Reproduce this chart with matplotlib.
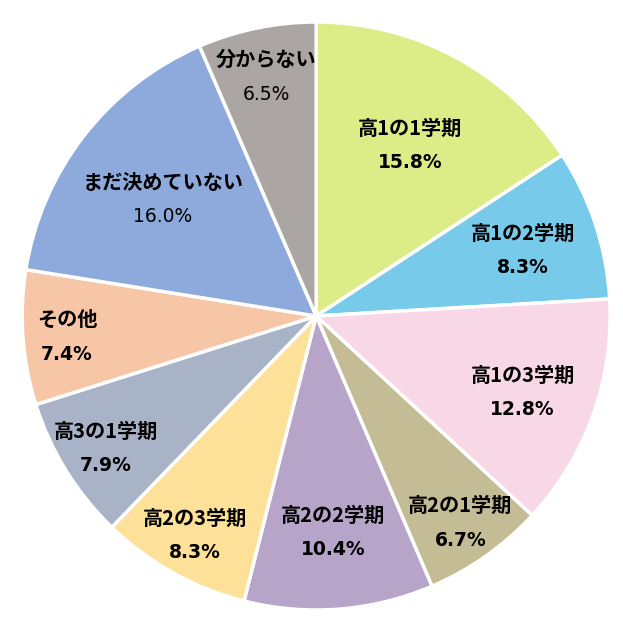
import numpy as np
import matplotlib
matplotlib.use('Agg')
import matplotlib.pyplot as plt

plt.rcParams['font.family'] = ['Noto Sans CJK JP', 'DejaVu Sans']

labels = ['高1の1学期', '高1の2学期', '高1の3学期', '高2の1学期', '高2の2学期',
          '高2の3学期', '高3の1学期', 'その他', 'まだ決めていない', '分からない']
values = [15.8, 8.3, 12.8, 6.7, 10.4, 8.3, 7.9, 7.4, 16.0, 6.5]
colors = ['#DCEC86', '#77CAEA', '#F8D7E7', '#C4BC95', '#B7A5C9',
          '#FDE198', '#A9B3C7', '#F7C6A6', '#8EAADC', '#ABA5A4']
# radial position of each label (fraction of radius)
label_r = [0.67, 0.74, 0.745, 0.85, 0.73, 0.845, 0.84, 0.85, 0.66, 0.84]
value_bold = [True, True, True, True, True, True, True, True, False, False]

fig = plt.figure(figsize=(6.23, 6.17), dpi=100)
ax = fig.add_axes([0.0356, 0.0113, 0.9438, 0.9531])

wedges, _ = ax.pie(values, colors=colors, startangle=90, counterclock=False,
                   wedgeprops=dict(edgecolor='white', linewidth=2.5))

for w, lab, val, r, b in zip(wedges, labels, values, label_r, value_bold):
    ang = np.deg2rad((w.theta1 + w.theta2) / 2)
    x, y = r * np.cos(ang), r * np.sin(ang)
    ax.text(x, y + 0.05, lab, ha='center', va='center', fontsize=14.5,
            fontweight='bold')
    ax.text(x, y - 0.068, '%.1f%%' % val, ha='center', va='center',
            fontsize=13.5, fontweight='bold' if b else 'normal',
            family=['DejaVu Sans'])

ax.set_xlim(-1, 1)
ax.set_ylim(-1, 1)
ax.set_aspect('equal')
fig.savefig('out.png', dpi=100)
